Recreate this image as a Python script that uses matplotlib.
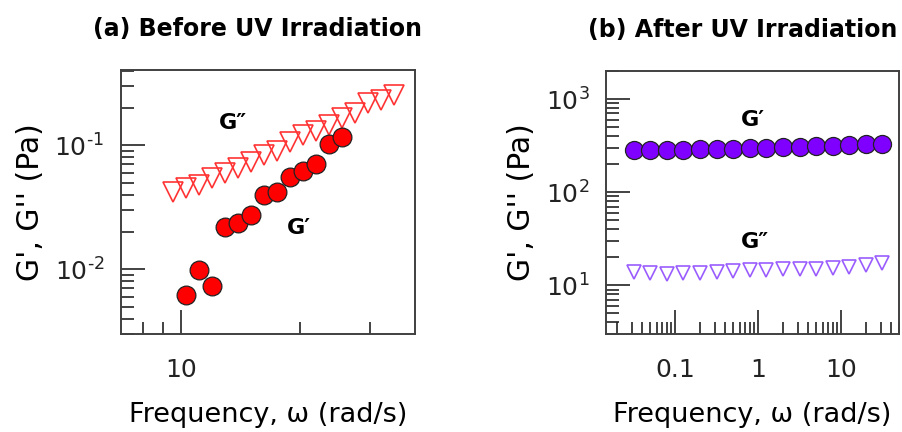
import matplotlib
matplotlib.use("Agg")
import matplotlib.pyplot as plt
from matplotlib.ticker import LogLocator, FixedLocator, NullFormatter, FuncFormatter
import numpy as np

plt.rcParams["font.family"] = ["DejaVu Sans"]
plt.rcParams["mathtext.fontset"] = "dejavusans"

# (a) before UV irradiation
freq_a = [9.56, 10.31, 11.12, 11.99, 12.93, 13.94, 15.03, 16.21, 17.48,
          18.85, 20.32, 21.91, 23.63, 25.48, 27.47, 29.62, 31.94, 34.45]
g2_a = [0.0422, 0.0449, 0.0477, 0.0548, 0.0594, 0.0652, 0.0738, 0.0835, 0.0900,
        0.107, 0.121, 0.130, 0.146, 0.167, 0.181, 0.219, 0.232, 0.255]
freq_a_g1 = [10.31, 11.12, 11.99, 12.93, 13.94, 15.03, 16.21, 17.48,
             18.85, 20.32, 21.91, 23.63, 25.48]
g1_a = [0.00617, 0.00994, 0.00738, 0.0220, 0.0234, 0.0273, 0.0396, 0.0421,
        0.0557, 0.0624, 0.0706, 0.1024, 0.1175]

# (b) after UV irradiation
freq_b = [0.0316, 0.0501, 0.0794, 0.126, 0.2, 0.316, 0.501, 0.794,
          1.26, 2.0, 3.16, 5.01, 7.94, 12.6, 20.0, 31.6]
g1_b = [283, 283, 285, 287, 289, 290, 293, 296, 301, 305, 309, 312, 316, 320, 326, 332]
g2_b = [13.9, 13.5, 13.3, 13.5, 13.5, 13.9, 14.3, 14.5, 14.5, 15.1, 15.1, 15.1,
        15.5, 15.7, 16.4, 17.4]

W, H = 903, 432
fig = plt.figure(figsize=(W / 100, H / 100), dpi=100)

frame_col = "#404040"
tick_fs = 18
xlabel_fs = 19.5
ylabel_fs = 21.5


def sup_fmt(v, pos):
    e = int(round(np.log10(v)))
    s = str(e).replace("-", "\u2010")
    return r"$\mathregular{10^{%s}}$" % s


def style_axes(ax):
    for s in ax.spines.values():
        s.set_color(frame_col)
        s.set_linewidth(1.4)
    ax.tick_params(which="both", direction="in", top=False, right=False,
                   colors="#222222", width=1.2, labelsize=tick_fs)
    ax.tick_params(which="major", length=17)
    ax.tick_params(which="minor", length=9)
    ax.tick_params(axis="x", which="both", pad=17)
    ax.tick_params(axis="y", which="both", pad=12)
    ax.set_xlabel("Frequency, ω (rad/s)", fontsize=xlabel_fs, labelpad=15)
    ax.set_ylabel("G', G'' (Pa)", fontsize=ylabel_fs, labelpad=7)


# panel a
ax1 = fig.add_axes([121 / W, 1 - 334 / H, 294 / W, 264 / H])
ax1.set_xscale("log")
ax1.set_yscale("log")
ax1.plot(freq_a, g2_a, linestyle="none", marker="v", markersize=14,
         markerfacecolor="none", markeredgecolor="#ff3333", markeredgewidth=1.2)
ax1.plot(freq_a_g1, g1_a, linestyle="none", marker="o", markersize=13.5,
         markerfacecolor="#ff0000", markeredgecolor="#222222", markeredgewidth=0.9)
ax1.set_xlim(7.05, 39)
ax1.set_ylim(0.003, 0.405)
ax1.xaxis.set_major_locator(FixedLocator([10]))
ax1.xaxis.set_major_formatter(FuncFormatter(lambda v, p: "%g" % v))
ax1.xaxis.set_minor_locator(FixedLocator([8, 9, 20, 30]))
ax1.xaxis.set_minor_formatter(NullFormatter())
ax1.yaxis.set_major_locator(FixedLocator([0.01, 0.1]))
ax1.yaxis.set_major_formatter(FuncFormatter(sup_fmt))
ax1.yaxis.set_minor_locator(LogLocator(base=10, subs=np.arange(2, 10)))
ax1.yaxis.set_minor_formatter(NullFormatter())
style_axes(ax1)
ax1.text(13.5, 0.151, "G″", fontsize=16, fontweight="bold", ha="center", va="center")
ax1.text(19.8, 0.0214, "G′", fontsize=16, fontweight="bold", ha="center", va="center")

# panel b
ax2 = fig.add_axes([606 / W, 1 - 334 / H, 293 / W, 263 / H])
ax2.set_xscale("log")
ax2.set_yscale("log")
ax2.plot(freq_b, g2_b, linestyle="none", marker="v", markersize=10,
         markerfacecolor="none", markeredgecolor="#9a5cff", markeredgewidth=1.2)
ax2.plot(freq_b, g1_b, linestyle="none", marker="o", markersize=13,
         markerfacecolor="#7f00ff", markeredgecolor="#222222", markeredgewidth=0.9)
ax2.set_xlim(0.0147, 50)
ax2.set_ylim(3, 2000)
ax2.xaxis.set_major_locator(FixedLocator([0.1, 1, 10]))
ax2.xaxis.set_major_formatter(FuncFormatter(lambda v, p: "%g" % v))
ax2.xaxis.set_minor_locator(LogLocator(base=10, subs=np.arange(2, 10)))
ax2.xaxis.set_minor_formatter(NullFormatter())
ax2.yaxis.set_major_locator(FixedLocator([10, 100, 1000]))
ax2.yaxis.set_major_formatter(FuncFormatter(sup_fmt))
ax2.yaxis.set_minor_locator(LogLocator(base=10, subs=np.arange(2, 10)))
ax2.yaxis.set_minor_formatter(NullFormatter())
style_axes(ax2)
ax2.text(0.875, 594, "G′", fontsize=16, fontweight="bold", ha="center", va="center")
ax2.text(0.925, 29, "G″", fontsize=16, fontweight="bold", ha="center", va="center")

fig.text(258 / W, 1 - 29 / H, "(a) Before UV Irradiation", fontsize=17,
         fontweight="bold", ha="center", va="center")
fig.text(743 / W, 1 - 30 / H, "(b) After UV Irradiation", fontsize=17,
         fontweight="bold", ha="center", va="center")

fig.savefig("out.png", dpi=100)
